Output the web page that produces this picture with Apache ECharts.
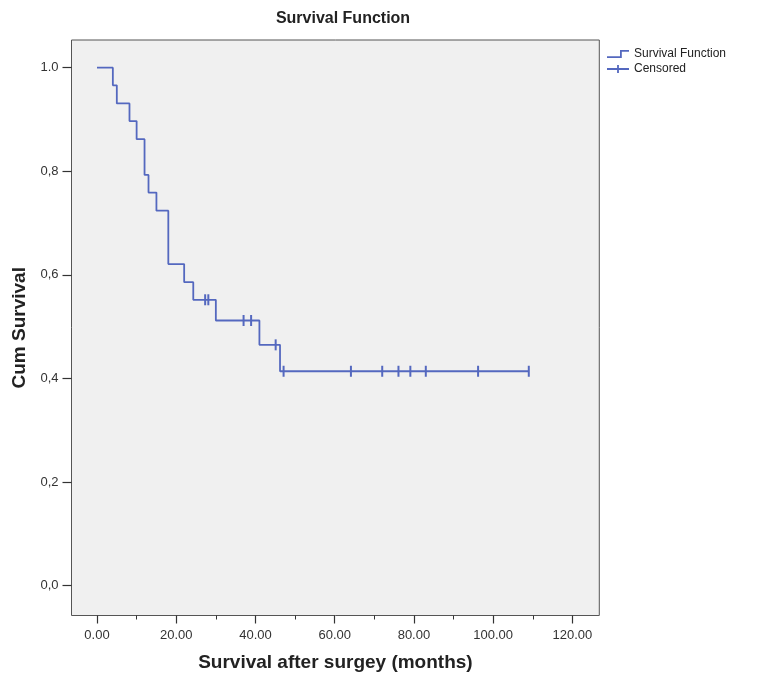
<!DOCTYPE html>
<html>
<head>
<meta charset="utf-8">
<title>Survival Function</title>
<script src="https://cdn.jsdelivr.net/npm/echarts@6/dist/echarts.min.js"></script>
<style>
	html, body { margin: 0; padding: 0; background: #fff; }
	#chart { width: 758px; height: 689px; }
</style>
</head>
<body>
<div id="chart"></div>
<script>
// step curve (time, cum survival after the drop)
var stepTimes = [0, 4, 5, 8.2, 10, 12, 13, 15, 18, 22, 24.3, 30, 41, 46.2, 109];
var stepSurvival = [1.0, 0.966, 0.931, 0.897, 0.862, 0.793, 0.759, 0.724, 0.621, 0.586, 0.552, 0.512, 0.465, 0.414, 0.414];

// censored marks
var censorTimes = [27.3, 28.1, 37, 38.9, 45.1, 47.1, 64.1, 72, 76.1, 79.1, 83, 96.2, 109];
var censorSurvival = [0.552, 0.552, 0.512, 0.512, 0.465, 0.414, 0.414, 0.414, 0.414, 0.414, 0.414, 0.414, 0.414];

// axes
var xTickValues = [0, 20, 40, 60, 80, 100, 120];
var xTickLabels = ['0.00', '20.00', '40.00', '60.00', '80.00', '100.00', '120.00'];
var xMinorTicks = [10, 30, 50, 70, 90, 110];
var yTickValues = [0, 0.2, 0.4, 0.6, 0.8, 1.0];
var yTickLabels = ['0,0', '0,2', '0,4', '0,6', '0,8', '1.0'];

var lineColor = '#5468bf';
var fontName = 'Liberation Sans, Arial, sans-serif';

function pickLabel(values, labels, v) {
	for (var i = 0; i < values.length; i++) {
		if (Math.abs(values[i] - v) < 1e-6) {
			return labels[i];
		}
	}
	return '';
}

var curveData = stepTimes.map(function (t, i) { return [t, stepSurvival[i]]; });
var censorData = censorTimes.map(function (t, i) { return [t, censorSurvival[i]]; });

var myChart = echarts.init(document.getElementById('chart'));
var option = {
	animation : false,
	title : {
		text : 'Survival Function',
		left : 338,
		textAlign : 'center',
		top : 6,
		textStyle : {
			fontFamily : fontName,
			fontSize : 16,
			fontWeight : 'bold',
			color : '#222'
		}
	},
	legend : {
		orient : 'vertical',
		left : 602,
		top : 42,
		itemWidth : 22,
		itemHeight : 8,
		itemGap : 1,
		textStyle : {
			fontFamily : fontName,
			fontSize : 12,
			lineHeight : 14,
			color : '#222'
		},
		itemStyle : {
			color : lineColor,
			borderWidth : 0,
			opacity : 1
		},
		data : [ {
			name : 'Survival Function',
			icon : 'path://M0,6.2H13V0H22V1.8H14.8V8H0Z'
		}, {
			name : 'Censored',
			icon : 'path://M0,3.1H10.1V0H11.9V3.1H22V4.9H11.9V8H10.1V4.9H0Z'
		} ]
	},
	grid : {
		left : 71.5,
		right : 158.7,
		top : 40,
		bottom : 73.5,
		show : true,
		backgroundColor : '#f0f0f0',
		borderColor : '#555',
		borderWidth : 1
	},
	xAxis : [ {
		type : 'value',
		min : -6.44,
		max : 126.8,
		position : 'bottom',
		offset : 0,
		splitLine : { show : false },
		axisLine : { show : false, onZero : false },
		axisTick : {
			length : 8,
			customValues : xTickValues,
			lineStyle : { color : '#333', width : 1.2 }
		},
		axisLabel : {
			customValues : xTickValues,
			margin : 13,
			fontFamily : fontName,
			fontSize : 13,
			color : '#333',
			formatter : function (v) { return pickLabel(xTickValues, xTickLabels, v); }
		},
		name : 'Survival after surgey (months)',
		nameLocation : 'middle',
		nameGap : 38,
		nameTextStyle : {
			fontFamily : fontName,
			fontSize : 19,
			fontWeight : 'bold',
			color : '#222'
		}
	}, {
		// minor ticks
		type : 'value',
		min : -6.44,
		max : 126.8,
		position : 'bottom',
		offset : 0,
		splitLine : { show : false },
		axisLine : { show : false, onZero : false },
		axisLabel : { show : false },
		axisTick : {
			length : 4,
			customValues : xMinorTicks,
			lineStyle : { color : '#333', width : 1 }
		}
	} ],
	yAxis : {
		type : 'value',
		min : -0.0575,
		max : 1.0535,
		splitLine : { show : false },
		axisLine : { show : false, onZero : false },
		axisTick : {
			length : 9,
			customValues : yTickValues,
			lineStyle : { color : '#333', width : 1.2 }
		},
		axisLabel : {
			customValues : yTickValues,
			margin : 13,
			fontFamily : fontName,
			fontSize : 13,
			color : '#333',
			formatter : function (v) { return pickLabel(yTickValues, yTickLabels, v); }
		},
		name : 'Cum Survival',
		nameLocation : 'middle',
		nameGap : 37,
		nameTextStyle : {
			fontFamily : fontName,
			fontSize : 19,
			fontWeight : 'bold',
			color : '#222'
		}
	},
	series : [ {
		name : 'Survival Function',
		type : 'line',
		step : 'end',
		showSymbol : false,
		symbol : 'none',
		color : lineColor,
		lineStyle : { color : lineColor, width : 1.8 },
		data : curveData
	}, {
		name : 'Censored',
		type : 'scatter',
		color : lineColor,
		symbol : 'path://M4.2,0H5.8V10H4.2Z',
		symbolSize : [2, 11],
		itemStyle : { color : lineColor, opacity : 1 },
		z : 3,
		data : censorData
	} ]
};
myChart.setOption(option);
</script>
</body>
</html>
